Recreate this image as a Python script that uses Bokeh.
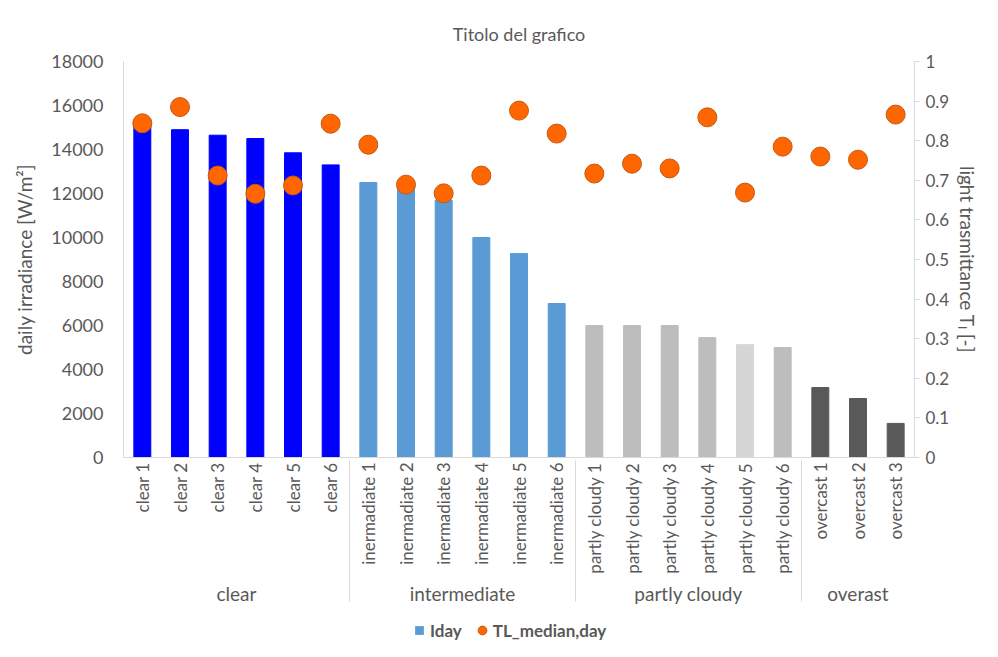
import math
from bokeh.plotting import figure
from bokeh.models import (FactorRange, ColumnDataSource, LinearAxis, Range1d,
                          FixedTicker, Legend, LegendItem)
from bokeh.layouts import column
from bokeh.embed import file_html
from bokeh.resources import INLINE

groups = ["clear", "intermediate", "partly cloudy", "overast"]
subcats = [
    ["clear 1", "clear 2", "clear 3", "clear 4", "clear 5", "clear 6"],
    ["inermadiate 1", "inermadiate 2", "inermadiate 3", "inermadiate 4", "inermadiate 5", "inermadiate 6"],
    ["partly cloudy 1", "partly cloudy 2", "partly cloudy 3", "partly cloudy 4", "partly cloudy 5", "partly cloudy 6"],
    ["overcast 1", "overcast 2", "overcast 3"],
]
iday = [15200, 14900, 14650, 14500, 13850, 13300,
        12500, 12300, 11700, 10000, 9270, 7000,
        6000, 6000, 6000, 5450, 5130, 5000,
        3180, 2680, 1550]
tl_median = [0.844, 0.885, 0.712, 0.666, 0.687, 0.843,
             0.790, 0.689, 0.667, 0.712, 0.876, 0.818,
             0.717, 0.742, 0.730, 0.859, 0.669, 0.785,
             0.760, 0.752, 0.866]
bar_colors = ["#0000FF"] * 6 + ["#5B9BD5"] * 6 + \
             ["#BDBDBD", "#BDBDBD", "#BDBDBD", "#BDBDBD", "#D6D6D6", "#BDBDBD"] + ["#595959"] * 3
left_ticks = list(range(0, 18001, 2000))
right_ticks = [0, 0.1, 0.2, 0.3, 0.4, 0.5, 0.6, 0.7, 0.8, 0.9, 1]

factors = [(g, s) for g, subs in zip(groups, subcats) for s in subs]

FONT = "Lato"
GREY = "#595959"
LINE = "#D9D9D9"
DOT_FILL = "#FF6600"
DOT_LINE = "#C55A11"

src = ColumnDataSource(data=dict(x=factors, iday=iday, tl=tl_median, color=bar_colors))

x_range = FactorRange(*factors, range_padding=0, factor_padding=0, group_padding=0,
                      subgroup_padding=0)

p = figure(x_range=x_range, y_range=Range1d(0, 18000), width=982, height=611,
           output_backend="svg", toolbar_location=None, title="Titolo del grafico",
           min_border_left=123, min_border_right=58, min_border_top=61, min_border_bottom=154)
p.extra_y_ranges = {"tl": Range1d(0, 1)}

p.title.align = "center"
p.title.text_font = FONT
p.title.text_font_size = "18px"
p.title.text_font_style = "normal"
p.title.text_color = GREY
p.title.standoff = 34

p.vbar(x="x", top="iday", width=0.45, color="color", source=src)
p.scatter(x="x", y="tl", size=19, fill_color=DOT_FILL, line_color=DOT_LINE,
          line_width=1, source=src, y_range_name="tl")

p.xgrid.visible = False
p.ygrid.visible = False
p.outline_line_color = None

# left axis
ya = p.yaxis[0]
ya.ticker = FixedTicker(ticks=left_ticks)
ya.axis_label = "daily irradiance [W/m\u00b2]"
ya.axis_label_text_font = FONT
ya.axis_label_text_font_size = "19px"
ya.axis_label_text_font_style = "normal"
ya.axis_label_text_color = GREY
ya.major_label_text_font = FONT
ya.major_label_text_font_size = "18px"
ya.major_label_text_color = GREY
ya.axis_line_color = LINE
ya.major_tick_line_color = None
ya.major_tick_out = 0
ya.major_tick_in = 0
ya.minor_tick_line_color = None
ya.major_label_standoff = 20
ya.axis_label_standoff = 12

# right axis
ra = LinearAxis(y_range_name="tl", ticker=FixedTicker(ticks=right_ticks))
ra.axis_label = "light trasmittance T\u2097 [-]"
ra.axis_label_text_font = FONT
ra.axis_label_text_font_size = "19px"
ra.axis_label_text_font_style = "normal"
ra.axis_label_text_color = GREY
ra.major_label_text_font = FONT
ra.major_label_text_font_size = "17px"
ra.major_label_text_color = GREY
ra.axis_line_color = LINE
ra.major_tick_line_color = LINE
ra.major_tick_out = 5
ra.major_tick_in = 0
ra.minor_tick_line_color = None
ra.major_label_standoff = 6
ra.axis_label_standoff = 4
p.add_layout(ra, "right")

# bottom axis (two-level categories)
xa = p.xaxis[0]
xa.major_label_orientation = math.pi / 2
xa.major_label_text_font = FONT
xa.major_label_text_font_size = "17px"
xa.major_label_text_color = GREY
xa.group_label_orientation = "horizontal"
xa.group_text_font = FONT
xa.group_text_font_size = "19px"
xa.group_text_font_style = "normal"
xa.group_text_color = GREY
xa.axis_line_color = LINE
xa.major_tick_line_color = None
xa.major_tick_out = 0
xa.major_tick_in = 0
xa.minor_tick_line_color = None
xa.separator_line_color = LINE
xa.separator_line_width = 1
xa.major_label_standoff = 5

# legend strip below the chart
lf = figure(width=982, height=30, output_backend="svg", toolbar_location=None,
            x_range=Range1d(0, 1), y_range=Range1d(0, 1),
            min_border_left=0, min_border_right=0, min_border_top=0, min_border_bottom=0)
lf.axis.visible = False
lf.grid.visible = False
lf.outline_line_color = None
r_iday = lf.scatter(x=[5], y=[5], marker="square", size=10, fill_color="#5B9BD5",
                    line_color=None)
r_tl = lf.scatter(x=[5], y=[5], marker="circle", size=12, fill_color=DOT_FILL,
                  line_color=DOT_LINE)
legend = Legend(items=[LegendItem(label="Iday", renderers=[r_iday]),
                       LegendItem(label="TL_median,day", renderers=[r_tl])],
                orientation="horizontal", location=(285, 0),
                label_text_font=FONT, label_text_font_size="17px",
                label_text_font_style="bold", label_text_color=GREY,
                border_line_color=None, background_fill_alpha=0,
                glyph_width=22, glyph_height=22, label_standoff=0,
                spacing=9, padding=0, margin=0)
lf.add_layout(legend)

layout = column(p, lf, spacing=0)

open("out.html", "w").write(file_html(layout, INLINE))
